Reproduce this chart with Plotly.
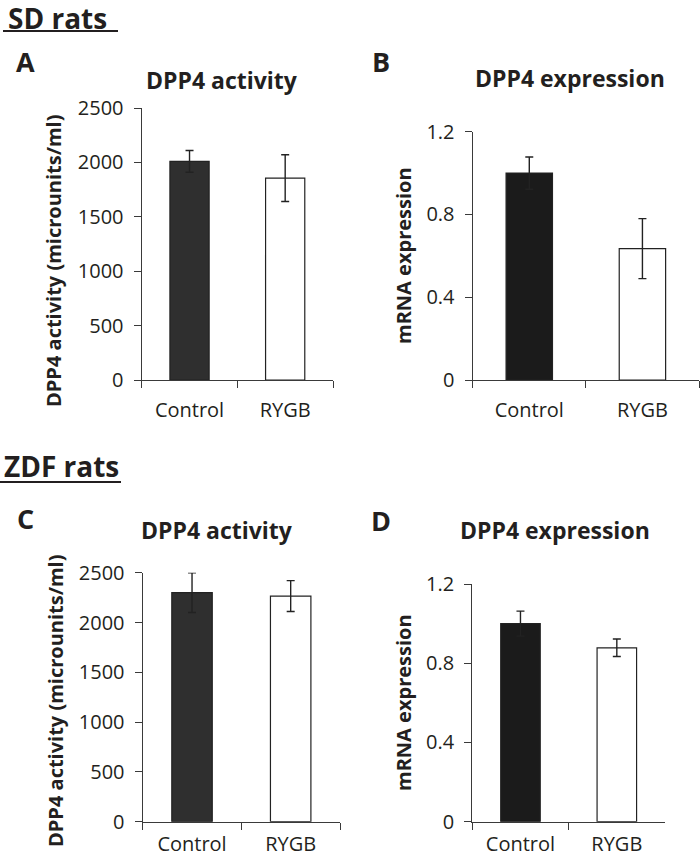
import plotly.graph_objects as go

W, H = 700, 860

categories = ["Control", "RYGB"]

sd_activity = [2010, 1855]
sd_activity_err = [100, 215]
sd_expr = [1.0, 0.635]
sd_expr_err = [0.078, 0.145]

zdf_activity = [2300, 2265]
zdf_activity_err = [200, 155]
zdf_expr = [1.0, 0.878]
zdf_expr_err = [0.063, 0.044]

activity_ticks = [0, 500, 1000, 1500, 2000, 2500]
expr_ticks = [0, 0.4, 0.8, 1.2]
expr_ticklabels = ["0", "0.4", "0.8", "1.2"]

FONT = "Open Sans"
AX = "#3a3a3a"
TXT = "#231f20"


def px(x):
    return x / W


def py(y):
    return 1 - y / H


fig = go.Figure()

panels = [
    ("1", sd_activity, sd_activity_err, "#2f2f2f", (141.7, 333), (108, 380), 12),
    ("2", sd_expr, sd_expr_err, "#1b1b1b", (472.7, 699), (131.7, 380), 12),
    ("3", zdf_activity, zdf_activity_err, "#2f2f2f", (142.7, 340), (572.7, 821.7), 4),
    ("4", zdf_expr, zdf_expr_err, "#1b1b1b", (472.3, 665), (584, 821.7), 4),
]

layout_axes = {}
for i, (n, vals, errs, col, xd, yd, xstand) in enumerate(panels):
    xa = "x" if n == "1" else "x" + n
    ya = "y" if n == "1" else "y" + n
    fig.add_trace(go.Bar(
        x=categories, y=vals, xaxis=xa, yaxis=ya, width=0.41,
        marker=dict(color=[col, "#ffffff"], line=dict(color="#222222", width=1.2)),
        error_y=dict(type="data", array=errs, visible=True, color="#222222",
                     thickness=1.4, width=4),
        showlegend=False, hoverinfo="skip",
    ))
    is_act = n in ("1", "3")
    xkey = "xaxis" if n == "1" else "xaxis" + n
    ykey = "yaxis" if n == "1" else "yaxis" + n
    layout_axes[xkey] = dict(
        domain=[px(xd[0]), px(xd[1])], anchor=ya, type="category",
        range=[-0.5, 1.5], showline=True, linecolor=AX, linewidth=1.3,
        ticks="outside", tickson="boundaries", ticklen=7, tickcolor=AX,
        tickwidth=1.3, showgrid=False, zeroline=False, automargin=False,
        tickfont=dict(family=FONT, size=20, color=TXT), ticklabelstandoff=xstand,
    )
    layout_axes[ykey] = dict(
        domain=[py(yd[1]), py(yd[0])], anchor=xa, automargin=False,
        range=[0, 2500] if is_act else [0, 1.2],
        tickvals=activity_ticks if is_act else expr_ticks,
        ticktext=[str(t) for t in activity_ticks] if is_act else expr_ticklabels,
        showline=True, linecolor=AX, linewidth=1.3, ticks="outside",
        ticklen=7, tickcolor=AX, tickwidth=1.3, showgrid=False,
        zeroline=False, tickfont=dict(family=FONT, size=20, color=TXT),
        ticklabelstandoff=6,
    )

fig.update_layout(**layout_axes)

annotations = []


def ann(text, x, y, size, angle=0):
    annotations.append(dict(
        text=text, x=px(x), y=py(y), xref="paper", yref="paper",
        showarrow=False, textangle=angle, xanchor="center", yanchor="middle",
        font=dict(family=FONT, size=size, color=TXT),
    ))


ann("<b>SD rats</b>", 57, 18, 28)
ann("<b>ZDF rats</b>", 61, 466, 28)
ann("<b>A</b>", 25, 62, 27)
ann("<b>B</b>", 381, 61, 27)
ann("<b>C</b>", 25, 518, 27)
ann("<b>D</b>", 381, 520, 27)
ann("<b>DPP4 activity</b>", 222, 80, 23)
ann("<b>DPP4 expression</b>", 570, 78, 23)
ann("<b>DPP4 activity</b>", 217, 530, 23)
ann("<b>DPP4 expression</b>", 555, 530, 23)
ann("<b>DPP4 activity (microunits/ml)</b>", 53, 261, 20, -90)
ann("<b>mRNA expression</b>", 403, 256, 20, -90)
ann("<b>DPP4 activity (microunits/ml)</b>", 55, 701, 20, -90)
ann("<b>mRNA expression</b>", 403, 703, 20, -90)

shapes = [
    dict(type="line", xref="paper", yref="paper", x0=px(3), x1=px(118),
         y0=py(31), y1=py(31), line=dict(color=TXT, width=2.2)),
    dict(type="line", xref="paper", yref="paper", x0=px(0), x1=px(121),
         y0=py(482), y1=py(482), line=dict(color=TXT, width=2.2)),
]

fig.update_layout(
    width=W, height=H, margin=dict(l=0, r=0, t=0, b=0, autoexpand=False),
    paper_bgcolor="white", plot_bgcolor="white",
    annotations=annotations, shapes=shapes, bargap=0.5,
    font=dict(family=FONT, color=TXT), hovermode=False,
)

fig.write_html(
    "out.html",
    config={"displayModeBar": False},
    post_script="document.body.style.margin='0';document.body.style.overflow='hidden';",
)
